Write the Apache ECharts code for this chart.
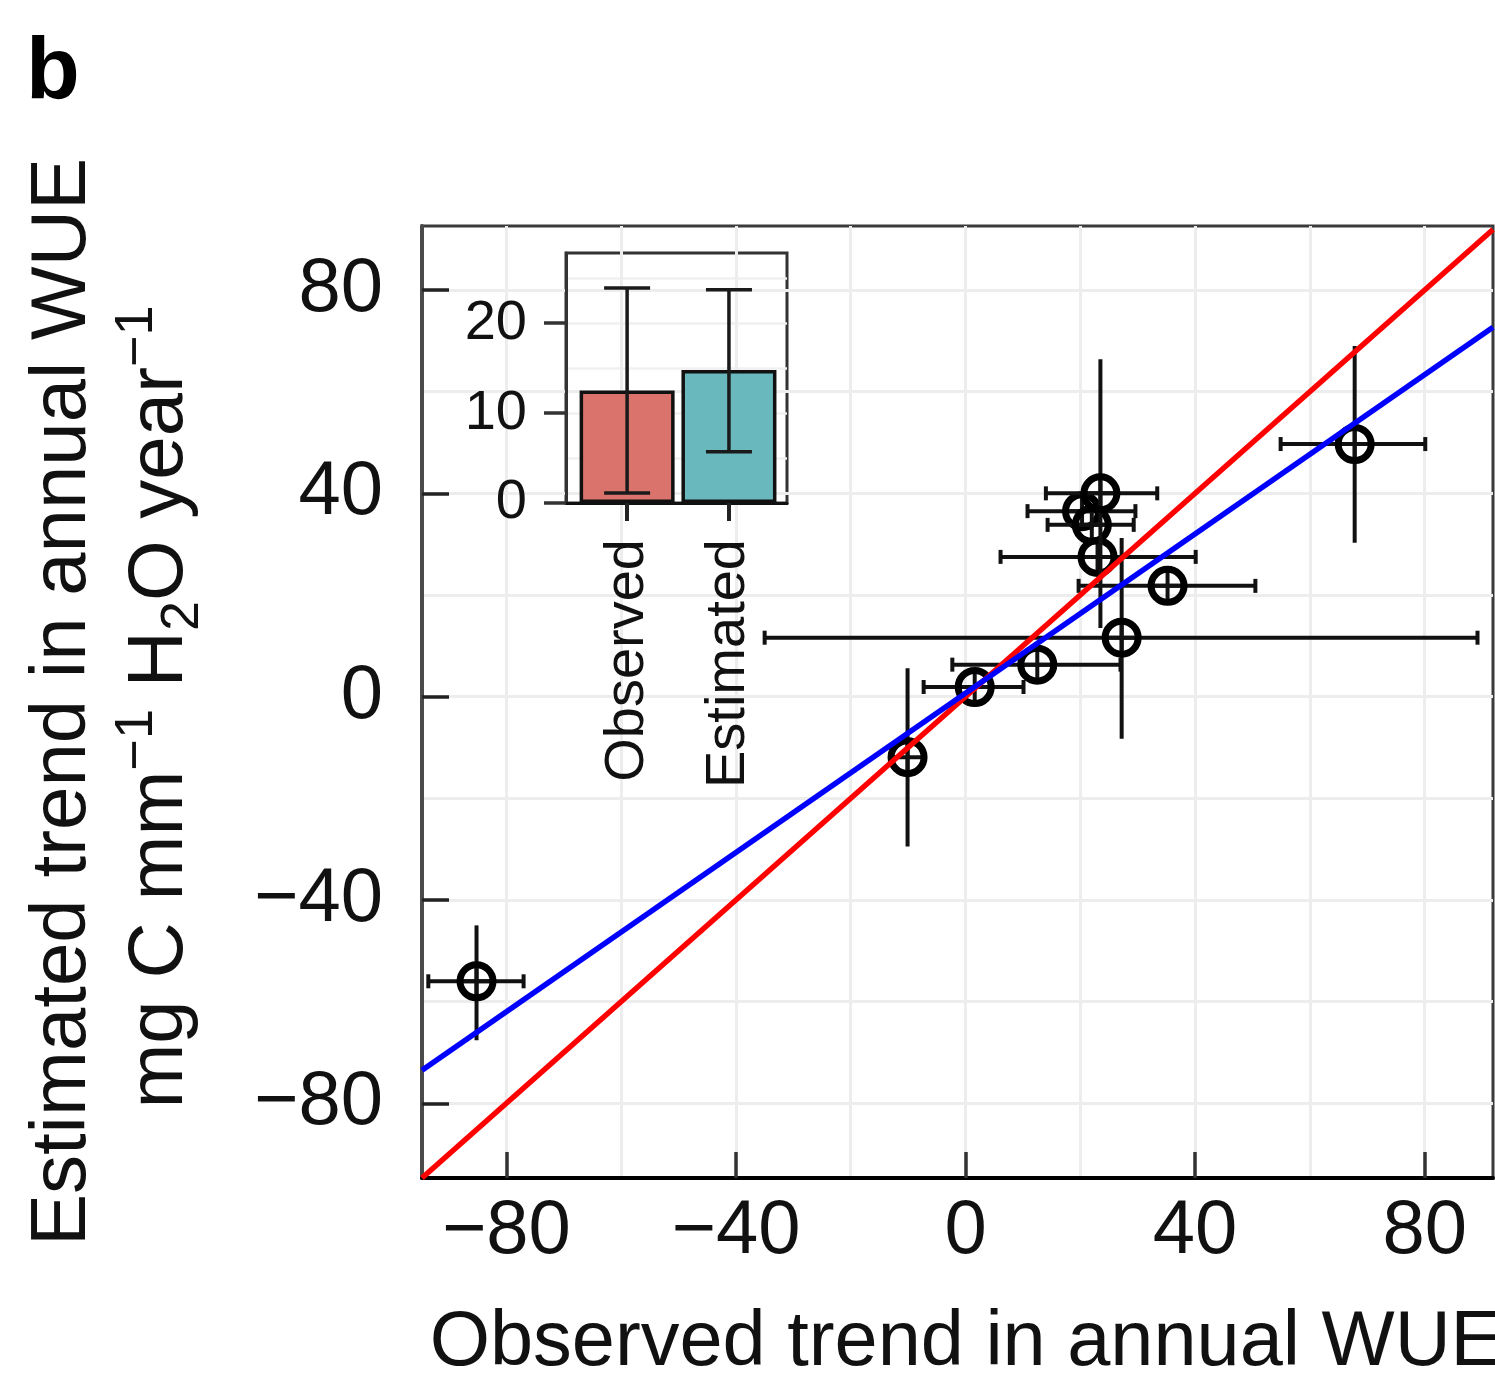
<!DOCTYPE html>
<html>
<head>
<meta charset="utf-8">
<title>Observed vs estimated WUE trend</title>
<script src="https://cdn.jsdelivr.net/npm/echarts@6.0.0/dist/echarts.min.js"></script>
<style>
  html, body { margin: 0; padding: 0; background: #fff; }
  #main { width: 1495px; height: 1380px; }
</style>
</head>
<body>
<div id="main"></div>
<script>
// sites: observed trend (x) vs estimated trend (y), with error ranges
var obsX  = [-85.2, -10.1,  1.6,  12.5,  27.2, 35.2,  23.0, 20.3, 22.0, 23.5, 67.8];
var estY  = [-56.0, -11.9,  1.9,   6.3,  11.6, 21.8,  27.5, 36.5, 33.8, 40.0, 49.7];
var obsLo = [-93.6, -10.1, -7.3,  -2.3, -35.0, 19.7,   6.1, 10.8, 14.3, 14.0, 54.9];
var obsHi = [-77.0, -10.1, 10.1,  27.0,  89.2, 50.5,  40.1, 29.6, 29.3, 33.4, 80.1];
var estLo = [-67.6, -29.5,  1.9,   6.3,  -8.3, 21.8,  27.5, 36.5, 33.8, 13.5, 30.3];
var estHi = [-45.0,   5.6,  1.9,   6.3,  31.2, 21.8,  27.5, 36.5, 33.8, 66.4, 69.0];

// end points of the 1:1 line (red) and the fitted line (blue)
var oneToOne = [[-94.7, -94.7], [91.9, 91.9]];
var fitLine  = [[-94.7, -73.5], [91.9, 72.7]];

var axisTicks = [-80, -40, 0, 40, 80];
var gridSteps = [-80, -60, -40, -20, 0, 20, 40, 60, 80];

// inset bar chart
var insetCats   = ['Observed', 'Estimated'];
var insetMean   = [12.5, 14.8];
var insetLo     = [1.1, 5.7];
var insetHi     = [23.9, 23.7];
var insetColors = ['#d9736c', '#69b8bd'];
var insetTicks  = [0, 10, 20];
var insetSteps  = [0, 5, 10, 15, 20, 25];

var FONT = 'Liberation Sans, Arial, sans-serif';

var chart = echarts.init(document.getElementById('main'));

function minus(v) {
  return String(v).replace('-', '\u2212');
}

//点 + 误差线
function renderSite(params, api) {
  var x = api.value(0), y = api.value(1);
  var c = api.coord([x, y]);
  var l = api.coord([api.value(2), y]), r = api.coord([api.value(3), y]);
  var b = api.coord([x, api.value(4)]), t = api.coord([x, api.value(5)]);
  var bar = {stroke: '#111', lineWidth: 4};
  var kids = [];
  if (r[0] - l[0] > 2) {
    kids.push({type: 'line', shape: {x1: l[0], y1: l[1], x2: r[0], y2: r[1]}, style: bar});
    kids.push({type: 'line', shape: {x1: l[0], y1: l[1] - 7, x2: l[0], y2: l[1] + 7}, style: bar});
    kids.push({type: 'line', shape: {x1: r[0], y1: r[1] - 7, x2: r[0], y2: r[1] + 7}, style: bar});
  }
  if (b[1] - t[1] > 2) {
    kids.push({type: 'line', shape: {x1: b[0], y1: b[1], x2: t[0], y2: t[1]}, style: bar});
  }
  var rad = 16.5;
  kids.push({type: 'line', shape: {x1: c[0] - rad, y1: c[1], x2: c[0] + rad, y2: c[1]}, style: bar});
  kids.push({type: 'line', shape: {x1: c[0], y1: c[1] - rad, x2: c[0], y2: c[1] + rad}, style: bar});
  kids.push({type: 'circle', shape: {cx: c[0], cy: c[1], r: rad},
    style: {fill: 'none', stroke: '#000', lineWidth: 7}});
  return {type: 'group', children: kids};
}

//柱状图误差线
function renderInsetErr(params, api) {
  var lo = api.coord([api.value(0), api.value(1)]);
  var hi = api.coord([api.value(0), api.value(2)]);
  var st = {stroke: '#1a1a1a', lineWidth: 3.5};
  var w = 23;
  return {type: 'group', children: [
    {type: 'line', shape: {x1: lo[0], y1: lo[1], x2: hi[0], y2: hi[1]}, style: st},
    {type: 'line', shape: {x1: lo[0] - w, y1: lo[1], x2: lo[0] + w, y2: lo[1]}, style: st},
    {type: 'line', shape: {x1: hi[0] - w, y1: hi[1], x2: hi[0] + w, y2: hi[1]}, style: st}
  ]};
}

var siteRows = obsX.map(function (x, i) {
  return [x, estY[i], obsLo[i], obsHi[i], estLo[i], estHi[i]];
});

var option = {
  animation: false,
  backgroundColor: '#fff',
  textStyle: {fontFamily: FONT},
  grid: [
    {left: 422, top: 226, width: 1071, height: 952, show: true,
      borderColor: '#3a3a3a', borderWidth: 3, backgroundColor: 'transparent',
      outerBoundsMode: 'none'},
    {left: 566, top: 253, width: 221, height: 250, show: true,
      borderColor: '#333', borderWidth: 3, backgroundColor: 'transparent',
      outerBoundsMode: 'none'}
  ],
  xAxis: [
    {type: 'value', gridIndex: 0, min: -94.7, max: 91.9, position: 'bottom',
      axisLine: {show: true, onZero: false, lineStyle: {color: '#000', width: 4}},
      axisTick: {show: false, customValues: gridSteps},
      splitLine: {show: true, lineStyle: {color: '#ededed', width: 3}},
      axisLabel: {customValues: axisTicks, fontSize: 76, color: '#111', margin: 16,
        fontFamily: FONT, formatter: minus}},
    {type: 'value', gridIndex: 0, min: -94.7, max: 91.9, position: 'bottom',
      axisLine: {show: false, onZero: false},
      axisTick: {show: true, inside: true, length: 26, customValues: axisTicks,
        lineStyle: {color: '#333', width: 3.5}},
      splitLine: {show: false}, axisLabel: {show: false}},
    {type: 'value', gridIndex: 1, min: 0.4, max: 2.57, position: 'bottom',
      axisLine: {show: true, onZero: false, lineStyle: {color: '#111', width: 3}},
      axisTick: {show: true, inside: false, length: 18, customValues: [1, 2],
        lineStyle: {color: '#222', width: 4}},
      splitLine: {show: false},
      axisLabel: {customValues: [1, 2], rotate: 90, fontSize: 56, color: '#111',
        margin: 36, fontFamily: FONT,
        formatter: function (v) { return insetCats[Math.round(v) - 1]; }}}
  ],
  yAxis: [
    {type: 'value', gridIndex: 0, min: -94.7, max: 92.6, position: 'left',
      axisLine: {show: true, onZero: false, lineStyle: {color: '#4a4a4a', width: 4}},
      axisTick: {show: false, customValues: gridSteps},
      splitLine: {show: true, lineStyle: {color: '#ededed', width: 3}},
      axisLabel: {customValues: axisTicks, fontSize: 76, color: '#111', margin: 39,
        fontFamily: FONT, formatter: minus}},
    {type: 'value', gridIndex: 0, min: -94.7, max: 92.6, position: 'left',
      axisLine: {show: false, onZero: false},
      axisTick: {show: true, inside: true, length: 27, customValues: axisTicks,
        lineStyle: {color: '#222', width: 3.5}},
      splitLine: {show: false}, axisLabel: {show: false}},
    {type: 'value', gridIndex: 1, min: 0, max: 27.8, position: 'left',
      axisLine: {show: true, onZero: false, lineStyle: {color: '#333', width: 3}},
      axisTick: {show: false, customValues: insetSteps},
      splitLine: {show: true, lineStyle: {color: '#f0f0f0', width: 2.5}},
      axisLabel: {customValues: insetTicks, fontSize: 56, color: '#111', margin: 39,
        fontFamily: FONT}},
    {type: 'value', gridIndex: 1, min: 0, max: 27.8, position: 'left',
      axisLine: {show: false, onZero: false},
      axisTick: {show: true, inside: false, length: 22, customValues: insetTicks,
        lineStyle: {color: '#333', width: 3.5}},
      splitLine: {show: false}, axisLabel: {show: false}}
  ],
  graphic: [
    {type: 'text', left: 26, top: 30, z: 10,
      style: {text: 'b', fontSize: 88, fontWeight: 'bold', fontFamily: FONT, fill: '#000'}},
    {type: 'text', x: 966, y: 1344, z: 10,
      style: {text: 'Observed trend in annual WUE', fontSize: 77.5, fontFamily: FONT, fill: '#111',
        align: 'center', verticalAlign: 'middle'}},
    {type: 'text', x: 63, y: 702, rotation: Math.PI / 2, z: 10,
      style: {text: 'Estimated trend in annual WUE', fontSize: 78, fontFamily: FONT, fill: '#111',
        align: 'center', verticalAlign: 'middle'}},
    {type: 'text', x: 160, y: 707, rotation: Math.PI / 2, z: 10,
      style: {
        text: '{n|mg C mm}{sup|\u22121}{n| H}{sub|2}{n|O year}{sup|\u22121}',
        align: 'center', verticalAlign: 'middle', fill: '#111',
        rich: {
          n: {fontSize: 78, fontFamily: FONT, lineHeight: 100, fill: '#111'},
          sup: {fontSize: 54, fontFamily: FONT, lineHeight: 56, verticalAlign: 'top', fill: '#111'},
          sub: {fontSize: 54, fontFamily: FONT, lineHeight: 56, verticalAlign: 'bottom', fill: '#111'}
        }
      }}
  ],
  series: [
    {type: 'custom', xAxisIndex: 0, yAxisIndex: 0, z: 3,
      renderItem: renderSite, encode: {x: [0, 2, 3], y: [1, 4, 5]}, data: siteRows},
    {type: 'line', xAxisIndex: 0, yAxisIndex: 0, z: 4, data: oneToOne, symbol: 'none',
      lineStyle: {color: '#ff0000', width: 5.5}},
    {type: 'line', xAxisIndex: 0, yAxisIndex: 0, z: 4, data: fitLine, symbol: 'none',
      lineStyle: {color: '#0000ff', width: 5.5}},
    {type: 'bar', xAxisIndex: 2, yAxisIndex: 2, z: 5, barWidth: 95,
      data: insetMean.map(function (v, i) {
        return {value: [i + 1, v], itemStyle: {color: insetColors[i], borderColor: '#111', borderWidth: 3.5}};
      })},
    {type: 'custom', xAxisIndex: 2, yAxisIndex: 2, z: 6,
      renderItem: renderInsetErr, encode: {x: 0, y: [1, 2]},
      data: insetCats.map(function (c, i) { return [i + 1, insetLo[i], insetHi[i]]; })}
  ]
};

chart.setOption(option);
</script>
</body>
</html>
